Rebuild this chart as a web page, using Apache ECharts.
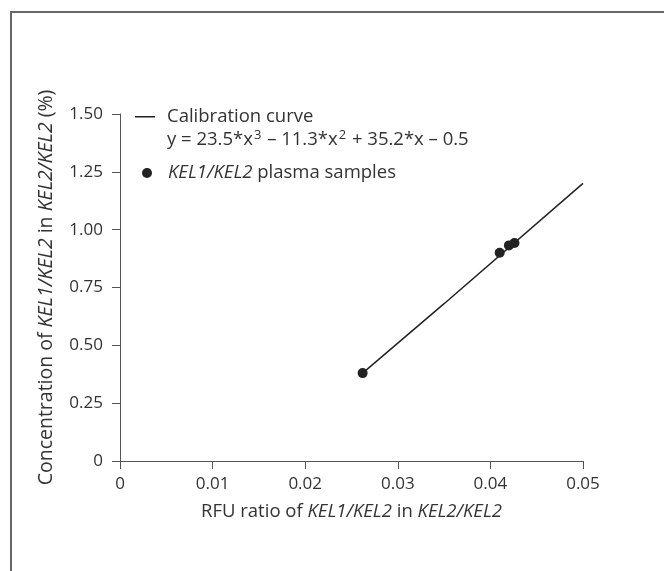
<!DOCTYPE html>
<html>
<head>
<meta charset="utf-8">
<script src="https://cdn.jsdelivr.net/npm/echarts@6/dist/echarts.min.js"></script>
<style>
html,body{margin:0;padding:0;background:#fff;}
#frame{position:absolute;left:10px;top:11px;width:660px;height:570px;border-left:2px solid #686868;border-top:2px solid #686868;}
#chart{position:absolute;left:0;top:0;width:664px;height:571px;}
</style>
</head>
<body>
<div id="frame"></div>
<div id="chart"></div>
<script>
// ---- data ----
const xTicks = [0, 0.01, 0.02, 0.03, 0.04, 0.05];
const yTicks = [0, 0.25, 0.5, 0.75, 1.0, 1.25, 1.5];
const curveX = [0.0262, 0.035, 0.05];
const curveY = [0.38, 0.68, 1.20];
const sampleX = [0.0262, 0.0410, 0.0420, 0.0426];
const sampleY = [0.38, 0.90, 0.932, 0.942];
const curveName = 'Calibration curve';
const equation = 'y = 23.5*x{sup|3} – 11.3*x{sup|2} + 35.2*x – 0.5';
const sampleName = 'KEL1/KEL2 plasma samples';

const FONT = '"Open Sans", "Noto Sans", sans-serif';
const TXT = '#333';
const chart = echarts.init(document.getElementById('chart'));
const fmt = v => v === 0 ? '0' : v.toFixed(2);

chart.setOption({
  animation: false,
  textStyle: {fontFamily: FONT, color: TXT},
  grid: {left: 120, right: 81, top: 114, bottom: 110, containLabel: false},
  xAxis: {
    type: 'value', min: xTicks[0], max: xTicks[xTicks.length - 1], interval: 0.01,
    axisLine: {show: true, lineStyle: {color: '#555', width: 1}},
    axisTick: {show: true, length: 8, lineStyle: {color: '#555'}},
    splitLine: {show: false},
    axisLabel: {formatter: fmt, fontSize: 17, color: TXT, fontFamily: FONT, margin: 15, showMinLabel: true, showMaxLabel: true},
    name: 'RFU ratio of {i|KEL1/KEL2} in {i|KEL2/KEL2}',
    nameLocation: 'middle', nameGap: 41,
    nameTextStyle: {fontSize: 18.5, color: TXT, fontFamily: FONT, rich: {i: {fontStyle: 'italic', fontSize: 18.5, color: TXT, fontFamily: FONT}}}
  },
  yAxis: {
    type: 'value', min: yTicks[0], max: yTicks[yTicks.length - 1], interval: 0.25,
    axisLine: {show: true, lineStyle: {color: '#555', width: 1}},
    axisTick: {show: true, length: 8, lineStyle: {color: '#555'}},
    splitLine: {show: false},
    axisLabel: {formatter: fmt, fontSize: 17, color: TXT, fontFamily: FONT, margin: 17},
    name: 'Concentration of {i|KEL1/KEL2} in {i|KEL2/KEL2} (%)',
    nameLocation: 'middle', nameGap: 64,
    nameTextStyle: {fontSize: 19.5, color: TXT, fontFamily: FONT, rich: {i: {fontStyle: 'italic', fontSize: 19.5, color: TXT, fontFamily: FONT}}}
  },
  legend: [
    {
      left: 135, top: 105, padding: 0, orient: 'vertical',
      itemWidth: 27, itemHeight: 24,
      data: [{name: curveName, icon: 'path://M0,0h20v1.4h-20z M26.9,23.9h0.1v0.1h-0.1z'}],
      formatter: n => '{t|' + n + '}\n' + equation.replace(/^([^{]*)/, '{t|$1}').replace(/\}([^{]+)/g, '}{t|$1}'),
      textStyle: {fontSize: 18.5, color: TXT, fontFamily: FONT, lineHeight: 23,
        rich: {
          t: {fontSize: 18.5, color: TXT, fontFamily: FONT, lineHeight: 23},
          sup: {fontSize: 13, color: TXT, fontFamily: FONT, lineHeight: 23, verticalAlign: 'top', padding: [1, 1, 0, 1]}
        }}
    },
    {
      left: 142, top: 162, padding: 0, orient: 'vertical',
      itemWidth: 32, itemHeight: 10,
      data: [{name: sampleName, icon: 'circle'}],
      formatter: () => '{i|KEL1/KEL2} plasma samples',
      textStyle: {fontSize: 18.5, color: TXT, fontFamily: FONT, lineHeight: 22,
        rich: {i: {fontStyle: 'italic', fontSize: 18.5, color: TXT, fontFamily: FONT, lineHeight: 22}}}
    }
  ],
  series: [
    {
      name: curveName, type: 'line', showSymbol: false, symbol: 'none',
      data: curveX.map((x, i) => [x, curveY[i]]),
      lineStyle: {color: '#222', width: 1.5}, itemStyle: {color: '#222'}, z: 2
    },
    {
      name: sampleName, type: 'scatter', symbol: 'circle', symbolSize: 10,
      data: sampleX.map((x, i) => [x, sampleY[i]]),
      itemStyle: {color: '#222', opacity: 1}, z: 3
    }
  ]
});
</script>
</body>
</html>
